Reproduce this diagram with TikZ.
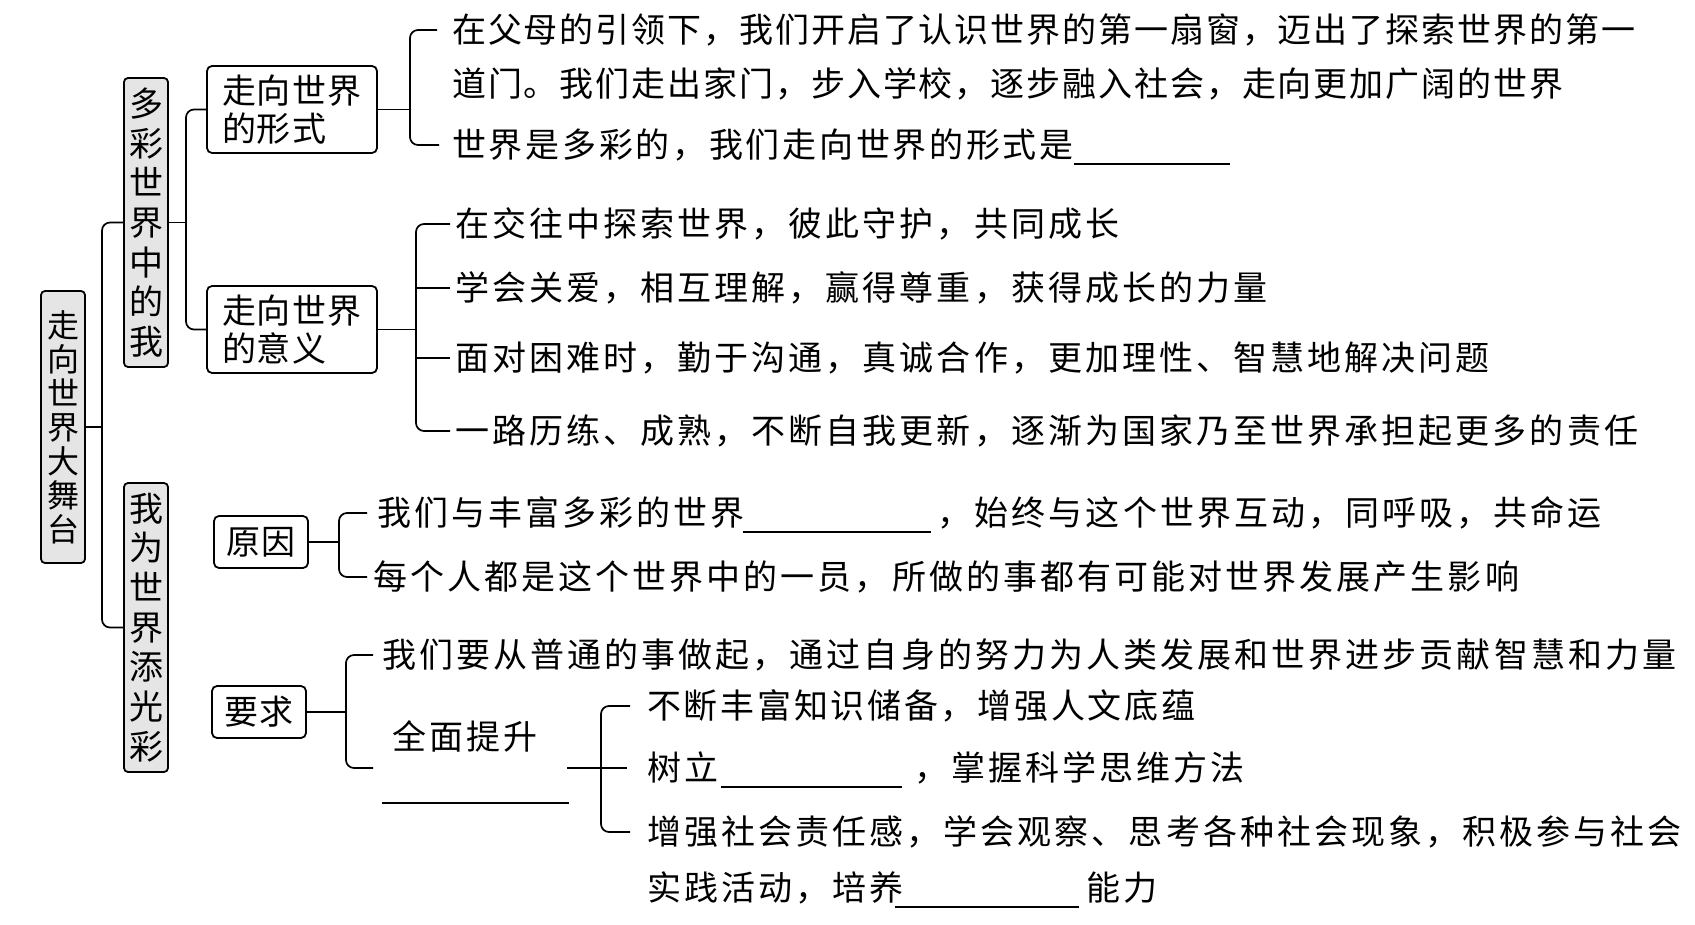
\documentclass[tikz,border=0pt]{standalone}
\usepackage{fontspec}
\newfontfamily\cjk[LetterSpace=9]{Noto Sans CJK SC}
\newfontfamily\cjka[LetterSpace=5.6]{Noto Sans CJK SC}
\newfontfamily\cjkm[LetterSpace=8]{Noto Sans CJK SC}
\newfontfamily\cjkb[LetterSpace=3]{Noto Sans CJK SC}
\usetikzlibrary{calc}
\tikzset{
  conn/.style={line width=1.7pt, rounded corners=8pt},
  vbox/.style={draw, line width=1.8pt, rounded corners=4pt, fill=black!10, minimum width=44pt, inner sep=0pt, align=center},
  hbox/.style={draw, line width=1.8pt, rounded corners=5pt, inner sep=0pt},
  txt/.style={anchor=west, inner sep=0pt, font=\cjk\fontsize{34}{40}\selectfont, text height=28pt, text depth=2.2pt},
  txta/.style={txt, font=\cjka\fontsize{34}{40}\selectfont},
  txtm/.style={txt, font=\cjkm\fontsize{34}{40}\selectfont},
}
\newcommand{\blankline}[1]{\rule[-7pt]{#1}{1.5pt}}
\begin{document}
\begin{tikzpicture}[x=1pt,y=-1pt]
\useasboundingbox (0,0) rectangle (1695,925);
\fill[white] (0,0) rectangle (1695,925);

% boxes
\node[vbox, minimum height=272pt, font=\cjkb\fontsize{32}{34}\selectfont] (root) at (63,427) {走\\向\\世\\界\\大\\舞\\台};
\node[vbox, minimum height=289pt, font=\cjkb\fontsize{34}{39.7}\selectfont] (m1) at (146,222.5) {多\\彩\\世\\界\\中\\的\\我};
\node[vbox, minimum height=289pt, font=\cjkb\fontsize{34}{39.7}\selectfont] (m2) at (146,627.5) {我\\为\\世\\界\\添\\光\\彩};
\node[hbox, minimum width=170pt, minimum height=87pt, align=left, text width=140pt, font=\cjkb\fontsize{34}{38}\selectfont] (f) at (292,109.5) {走向世界\\的形式};
\node[hbox, minimum width=170pt, minimum height=87pt, align=left, text width=140pt, font=\cjkb\fontsize{34}{38}\selectfont] (y) at (292,329.5) {走向世界\\的意义};
\node[hbox, minimum width=94pt, minimum height=52pt, font=\cjkb\fontsize{34}{38}\selectfont] (c) at (261,542) {原因};
\node[hbox, minimum width=94pt, minimum height=52pt, font=\cjkb\fontsize{34}{38}\selectfont] (r) at (259,712) {要求};

% texts
\node[txta] (A1) at (452,30) {在父母的引领下，我们开启了认识世界的第一扇窗，迈出了探索世界的第一};
\node[txta] (A2) at (452,84) {道门。我们走出家门，步入学校，逐步融入社会，走向更加广阔的世界};
\node[txtm] (A3) at (452,145) {世界是多彩的，我们走向世界的形式是\blankline{156pt}};
\node[txt] (B1) at (455,224) {在交往中探索世界，彼此守护，共同成长};
\node[txt] (B2) at (455,288) {学会关爱，相互理解，赢得尊重，获得成长的力量};
\node[txt] (B3) at (455,358) {面对困难时，勤于沟通，真诚合作，更加理性、智慧地解决问题};
\node[txt] (B4) at (455,431) {一路历练、成熟，不断自我更新，逐渐为国家乃至世界承担起更多的责任};
\node[txt] (C1) at (377,513) {我们与丰富多彩的世界\hspace{-2pt}\blankline{188pt}\hspace{7pt}，始终与这个世界互动，同呼吸，共命运};
\node[txt] (C2) at (373,577) {每个人都是这个世界中的一员，所做的事都有可能对世界发展产生影响};
\node[txt] (D1) at (382,655) {我们要从普通的事做起，通过自身的努力为人类发展和世界进步贡献智慧和力量};
\node[txt] (qm) at (392,737) {全面提升};
\node[anchor=west, inner sep=0pt] (ql) at (382,803) {\rule{187pt}{1.5pt}};
\node[txtm] (E1) at (647,706) {不断丰富知识储备，增强人文底蕴};
\node[txt] (E2) at (647,768) {树立\hspace{3pt}\blankline{181pt}\hspace{12pt}，掌握科学思维方法};
\node[txt] (E3) at (647,832) {增强社会责任感，学会观察、思考各种社会现象，积极参与社会};
\node[txt] (E4) at (647,888) {实践活动，培养\hspace{-9pt}\blankline{184pt}\hspace{8pt}能力};

% connectors
\coordinate (j0) at (102,427);
\draw[conn] (root.east) -- (j0);
\draw[conn] (m1.west) -| (j0) |- (m2.west);

\coordinate (j1) at (186,222.5);
\draw[conn] (m1.east) -- (j1);
\draw[conn] (f.west) -| (j1) |- (y.west);

\coordinate (j2) at (410,109.5);
\draw[conn] (f.east) -- (j2);
\draw[conn] ($(A1.west)+(-15,0)$) -| (j2) |- ($(A3.west)+(-13,0)$);

\coordinate (j3) at (416,329.5);
\draw[conn] (y.east) -- (j3);
\draw[conn] ($(B1.west)+(-5,0)$) -| (j3) |- ($(B4.west)+(-5,0)$);
\draw[conn] (B2.west -| j3) -- ($(B2.west)+(-5,0)$);
\draw[conn] (B3.west -| j3) -- ($(B3.west)+(-5,0)$);

\coordinate (j4) at (339,542);
\draw[conn] (c.east) -- (j4);
\draw[conn] ($(C1.west)+(-10,0)$) -| (j4) |- ($(C2.west)+(-6,0)$);

\coordinate (j5) at (346,712);
\coordinate (qe) at (373,768);
\draw[conn] (r.east) -- (j5);
\draw[conn] ($(D1.west)+(-9,0)$) -| (j5) |- (qe);

\coordinate (qr) at (567,768);
\coordinate (j6) at (601,768);
\draw[conn] (qr) -- ($(E2.west)+(-20,0)$);
\draw[conn] ($(E1.west)+(-17,0)$) -| (j6) |- ($(E3.west)+(-17,0)$);
\end{tikzpicture}
\end{document}
